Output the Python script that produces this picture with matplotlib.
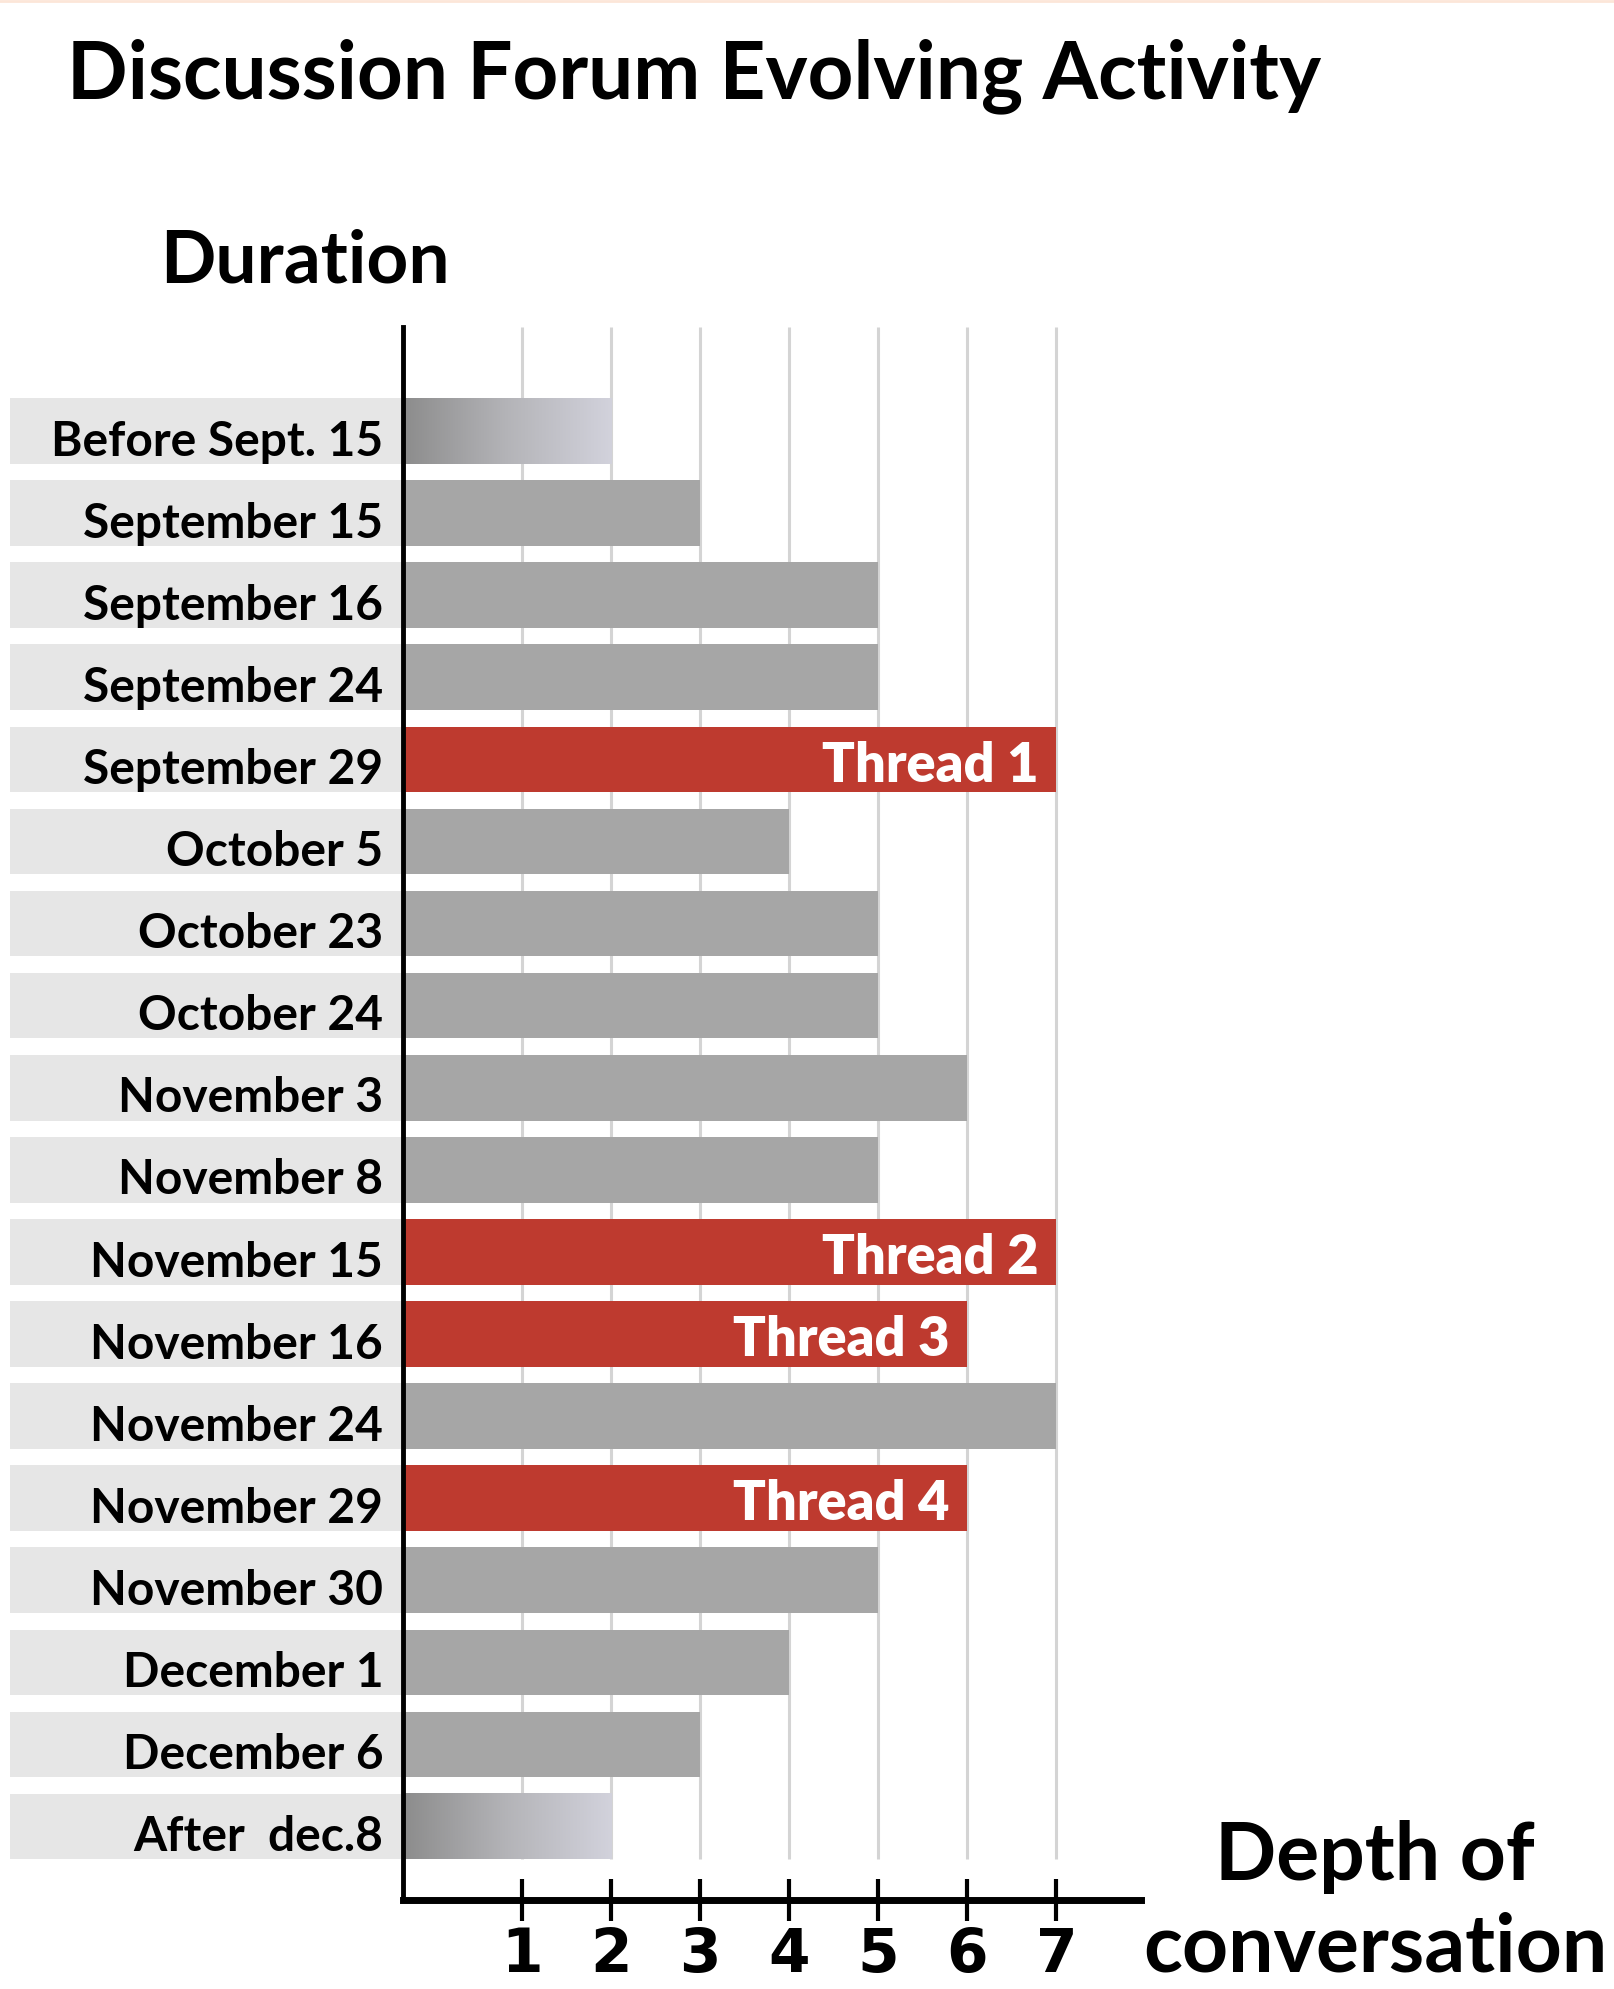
import numpy as np
import matplotlib
matplotlib.use('Agg')
import matplotlib.pyplot as plt
from matplotlib.colors import LinearSegmentedColormap
from matplotlib.lines import Line2D

dates = ['Before Sept. 15', 'September 15', 'September 16', 'September 24',
         'September 29', 'October 5', 'October 23', 'October 24',
         'November 3', 'November 8', 'November 15', 'November 16',
         'November 24', 'November 29', 'November 30', 'December 1',
         'December 6', 'After  dec.8']
depth = [2, 3, 5, 5, 7, 4, 5, 5, 6, 5, 7, 6, 7, 6, 5, 4, 3, 2]
threads = ['', '', '', '', 'Thread 1', '', '', '', '', '',
           'Thread 2', 'Thread 3', '', 'Thread 4', '', '', '', '']
faded = [True] + [False] * 16 + [True]
ticks = [1, 2, 3, 4, 5, 6, 7]

fam = ['Lato', 'DejaVu Sans']

W, H = 1614, 1989
fig = plt.figure(figsize=(W / 100, H / 100), dpi=100)
ax = fig.add_axes([10 / W, 1 - 1900 / H, (1141 - 10) / W, (1900 - 327) / H])

xmin, xmax = -4.75, 7.95
x0 = -0.34
rows = np.arange(len(dates))
bh = 0.8
ylim = (17.895, -1.267)

gray = '#a6a6a6'
red = '#be3a2f'
colors = [red if t else gray for t in threads]

# label backgrounds
ax.barh(rows, x0 - xmin, left=xmin, height=bh, color='#e6e6e6', zorder=1)
# grid
ax.vlines(ticks, ylim[1], rows[-1] + bh / 2, color='#d4d4d4', lw=2.2, zorder=0)

bars = ax.barh(rows, np.array(depth) - x0, left=x0, height=bh, color=colors, zorder=2)

fade = LinearSegmentedColormap.from_list('fade', ['#8c8c8c', '#b4b4b8', '#d2d2dc'])
grad = np.linspace(0, 1, 256).reshape(1, -1)
for b, f in zip(bars, faded):
    if f:
        b.set_visible(False)
        ax.imshow(grad, cmap=fade, aspect='auto', zorder=2,
                  extent=(b.get_x(), b.get_x() + b.get_width(),
                          b.get_y() + b.get_height(), b.get_y()))

for i, (d, v, t) in enumerate(zip(dates, depth, threads)):
    ax.text(x0 - 0.22, i + 0.3, d, ha='right', va='baseline', fontsize=34.5,
            family=fam, fontweight='bold', zorder=4)
    if t:
        ax.text(v - 0.2, i + 0.27, t, ha='right', va='baseline', fontsize=39,
                family=fam, fontweight='heavy', color='white', zorder=4)

ax.set_xlim(xmin, xmax)
ax.set_ylim(*ylim)
for s in ['top', 'right']:
    ax.spines[s].set_visible(False)
ax.spines['left'].set_position(('data', x0))
ax.spines['left'].set_linewidth(3.5)
ax.spines['bottom'].set_bounds(x0, xmax)
ax.spines['bottom'].set_linewidth(5)
ax.set_yticks([])
ax.set_xticks(ticks)
ax.set_xticklabels([str(t) for t in ticks], family='DejaVu Sans', fontweight='bold', fontsize=43)
ax.tick_params(axis='x', direction='inout', length=30, width=3, pad=4)
ax.patch.set_alpha(0)

fig.text(67 / W, 1 - 98 / H, 'Discussion Forum Evolving Activity', fontsize=57.5,
         family=fam, fontweight='bold', va='baseline')
fig.text(160 / W, 1 - 283 / H, 'Duration', fontsize=52.5, family=fam,
         fontweight='bold', va='baseline')
fig.text(1375 / W, 1 - 1880 / H, 'Depth of', fontsize=58, family=fam,
         fontweight='bold', va='baseline', ha='center')
fig.text(1375 / W, 1 - 1972 / H, 'conversation', fontsize=58, family=fam,
         fontweight='bold', va='baseline', ha='center')

fig.add_artist(Line2D([0, 1], [1 - 1 / H, 1 - 1 / H], color='#fce6d8', lw=2))

fig.savefig('out.png', dpi=100)
